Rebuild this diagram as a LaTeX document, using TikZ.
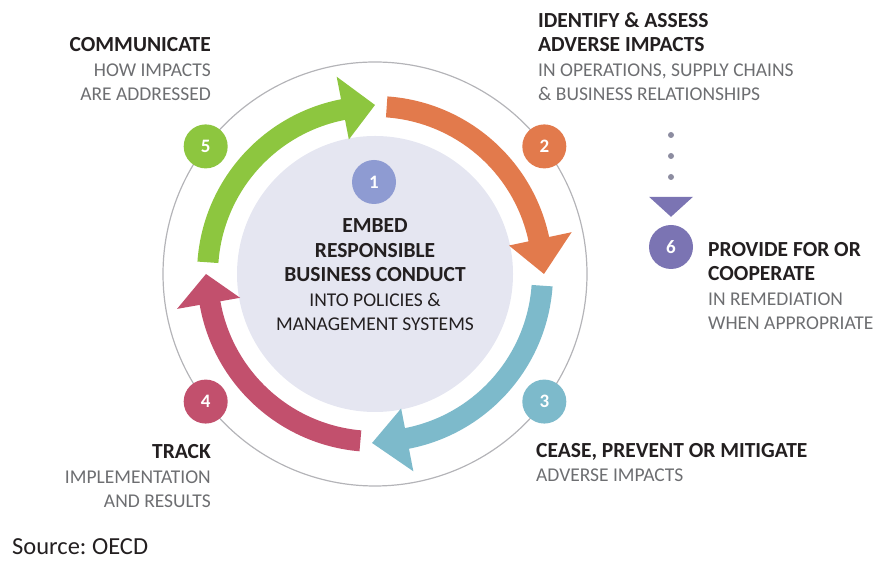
\documentclass[tikz,border=0pt]{standalone}
\usepackage{fontspec}
\setmainfont{Carlito}
\usetikzlibrary{arrows.meta,positioning}
\definecolor{stepgreen}{HTML}{8DC63F}
\definecolor{steporange}{HTML}{E27A4C}
\definecolor{stepblue}{HTML}{7DBACB}
\definecolor{stepred}{HTML}{C2506D}
\definecolor{steplav}{HTML}{8E9BD2}
\definecolor{steppurple}{HTML}{7B74B3}
\definecolor{diskfill}{HTML}{E5E6F1}
\definecolor{ringgray}{HTML}{B4B4B8}
\definecolor{dotgray}{HTML}{8C8CA0}
\definecolor{txtdark}{HTML}{231F20}
\definecolor{txtgray}{HTML}{6D6E71}
\newcommand{\hdline}[1]{{\bfseries\color{txtdark}\fontsize{21.5}{24.5}\selectfont #1}}
\tikzset{%
	ring/.style     = {draw=ringgray, line width=1.2pt}, % outer ring
	core/.style     = {circle, fill=diskfill, minimum size=276pt, inner sep=0pt}, % centre disk
	numdot/.style   = {circle, minimum size=44pt, inner sep=0pt, text=white, font=\bfseries\fontsize{19}{19}\selectfont}, % step number
	steptxt/.style  = {inner sep=0pt, text=txtgray, font=\fontsize{19.5}{24.5}\selectfont}, % step text
	dotline/.style  = {draw=dotgray, line width=6pt, line cap=round, dash pattern=on 0pt off 21pt},
}

\begin{document}
\frenchspacing
\begin{tikzpicture}[x=1pt,y=1pt]
	\useasboundingbox (0,0) rectangle (875,561);
	\node [core] (core) at (375,287) {};
	\draw [ring] (core.center) circle [radius=212];
	
	\begin{scope}[shift={(core.center)}]
	% curved arrows: tail / head base / tip
	\foreach \tail/\base/\tip/\col in {176/101/90/stepgreen, 86/12/0/steporange, -4/-79/-91/stepblue, 265/190/180/stepred}
		\fill [\col] (\tail:178) arc [start angle=\tail, end angle=\base, radius=178] -- (\base:201) -- (\tip:169) -- (\base:137) -- (\base:157) arc [start angle=\base, end angle=\tail, radius=157] -- cycle;
	\node [numdot, fill=stepgreen] (n5) at (143:212) {5};
	\node [numdot, fill=steporange] (n2) at (37:212) {2};
	\node [numdot, fill=stepblue] (n3) at (-37:212) {3};
	\node [numdot, fill=stepred] (n4) at (-143:212) {4};
	\end{scope}
	
	\node [numdot, fill=steplav] (n1) at (374,379) {1};
	% anchors sit on the last line
	\node [steptxt, align=center, anchor=base] (embed) at (375,230) {\hdline{EMBED}\\ \hdline{RESPONSIBLE}\\ \hdline{BUSINESS CONDUCT}\\ \color{txtdark}INTO POLICIES \&\\ \color{txtdark}MANAGEMENT SYSTEMS};
	
	\node [steptxt, align=right, anchor=base east] (comm) at (211,460) {\hdline{COMMUNICATE}\\ HOW IMPACTS\\ ARE ADDRESSED};
	\node [steptxt, align=left, anchor=base west] (ident) at (538,460) {\hdline{IDENTIFY \& ASSESS}\\ \hdline{ADVERSE IMPACTS}\\ IN OPERATIONS, SUPPLY CHAINS\\ \& BUSINESS RELATIONSHIPS};
	\node [steptxt, align=left, anchor=base west] (cease) at (536,79) {\hdline{CEASE, PREVENT OR MITIGATE}\\ ADVERSE IMPACTS};
	\node [steptxt, align=right, anchor=base east] (track) at (211,53) {\hdline{TRACK}\\ IMPLEMENTATION\\ AND RESULTS};
	
	\node [numdot, fill=steppurple] (n6) at (671,314) {6};
	\node [steptxt, align=left, anchor=base west] (remedy) at (708,231) {\hdline{PROVIDE FOR OR}\\ \hdline{COOPERATE}\\ IN REMEDIATION\\ WHEN APPROPRIATE};
	\coordinate (dtop) at (671,426);
	\draw [dotline, -{Triangle[length=20pt, width=44pt, fill=steppurple, line width=0pt, sep=0pt]}, shorten >=8pt] (dtop) -- (n6.north);
	
	\node [inner sep=0pt, anchor=base west, text=txtdark, font=\fontsize{24.5}{24.5}\selectfont] (src) at (12,6) {Source: OECD};
\end{tikzpicture}
\end{document}
